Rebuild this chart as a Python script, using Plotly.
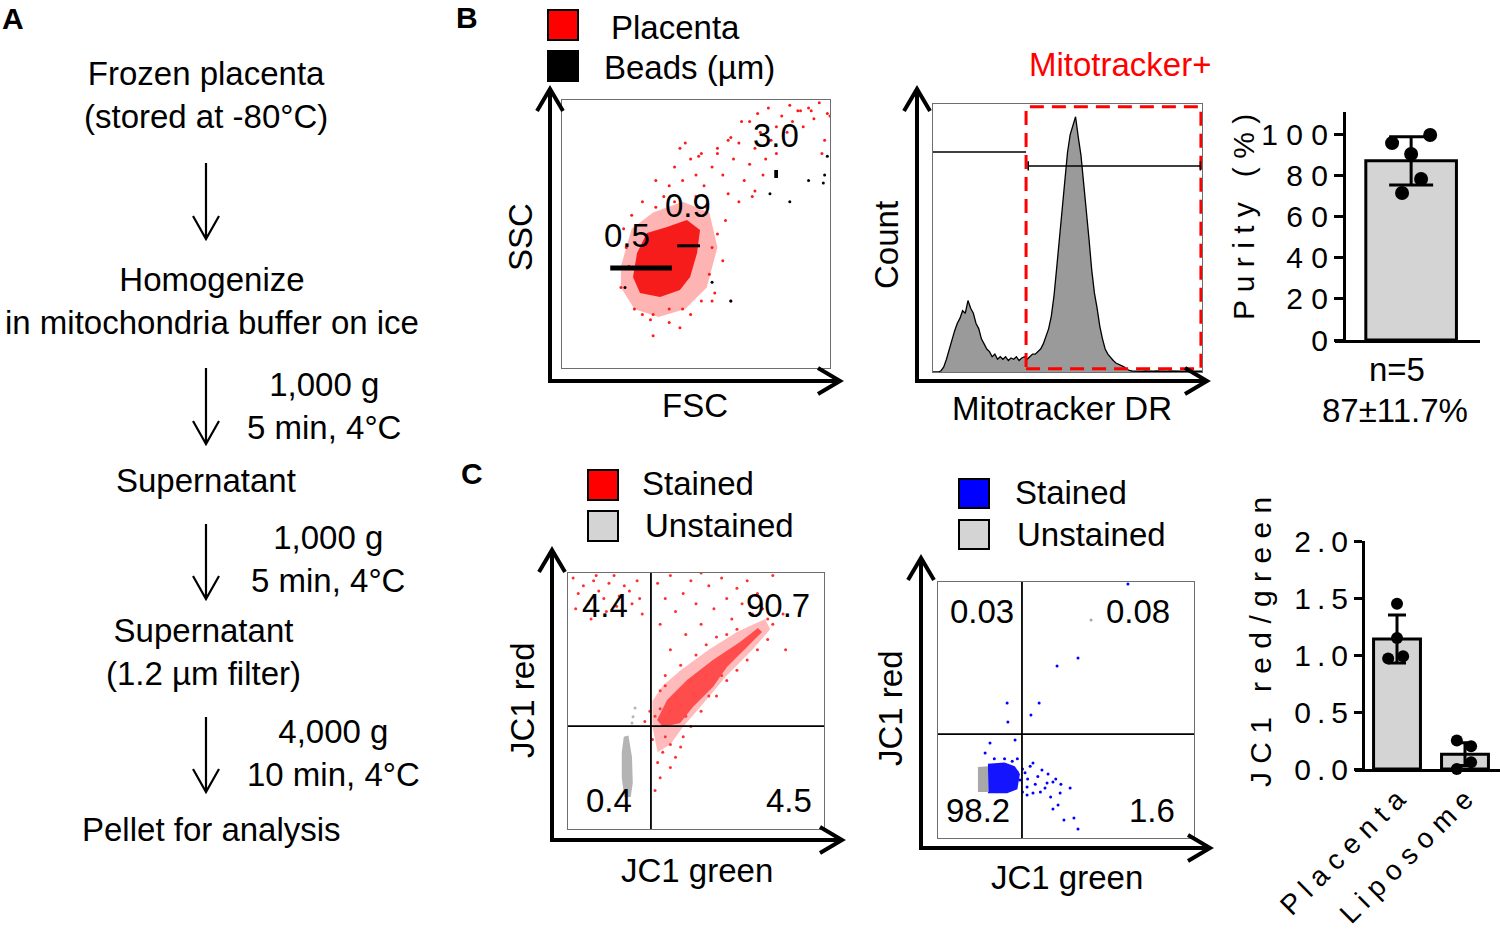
import math
import plotly.graph_objects as go

W, H = 1500, 936
FONT = "Arial, Liberation Sans, sans-serif"
TS = 33  # main text size

# ---------------- data ----------------
# Panel A: isolation protocol
flow_steps = ["Frozen placenta<br>(stored at -80°C)",
              "Homogenize<br>in mitochondria buffer on ice",
              "Supernatant",
              "Supernatant<br>(1.2 µm filter)",
              "Pellet for analysis"]
spin_force = ["1,000 g", "1,000 g", "4,000 g"]
spin_time = ["5 min, 4°C", "5 min, 4°C", "10 min, 4°C"]

# Panel B left: FSC / SSC (0-100 display units)
placenta_core_x = [28.0, 31.7, 39.2, 46.6, 51.5, 50.4, 47.8, 44.0, 36.6, 29.1, 26.5]
placenta_core_y = [42.9, 50.4, 52.6, 55.2, 51.5, 42.9, 34.0, 29.1, 26.5, 28.0, 34.0]
placenta_halo_x = [22, 26, 34, 45, 55, 58, 54, 46, 36, 27, 22]
placenta_halo_y = [38, 52, 58, 62, 58, 45, 30, 22, 19, 22, 30]
placenta_dots_x = [22, 24, 25, 27, 30, 33, 35, 38, 42, 45, 48, 52, 55, 56, 58, 54, 50, 23, 26, 30,
                   40, 44, 34, 57, 60, 61, 45, 50, 48, 53, 56, 58, 62, 60, 64, 66, 63, 68, 70, 72,
                   74, 70, 76, 78, 80, 82, 77, 84, 86, 88, 90, 92, 94, 96, 85, 73, 67, 62, 52, 46,
                   42, 40, 98, 99, 97, 80, 75, 66, 72, 35, 44, 51, 58, 71, 34, 40, 56, 63, 89, 93, 100]
placenta_dots_y = [30, 45, 38, 22, 20, 18, 60, 64, 62, 22, 20, 25, 35, 45, 50, 60, 64, 52, 57, 62,
                   17, 15, 12, 28, 40, 55, 70, 72, 78, 68, 75, 80, 65, 72, 78, 84, 86, 70, 76, 82,
                   88, 92, 78, 85, 90, 94, 97, 88, 92, 96, 90, 97, 93, 99, 98, 95, 92, 85, 80, 84,
                   75, 68, 85, 95, 80, 80, 72, 62, 66, 70, 82, 79, 82, 64, 20, 22, 25, 25, 96, 96, 94]
beads_dots_x = [98, 97.5, 99, 77.6, 56, 63, 23.5, 92, 85]
beads_dots_y = [72, 69, 79, 65, 32, 25, 30, 70, 62]
bead_sizes = ["0.5", "0.9", "3.0"]
bead_fsc_lo = [18, 43, 79.2]
bead_fsc_hi = [41, 51.5, 80.6]
bead_ssc = [37.3, 45.6, 72.4]

# Panel B middle: Mitotracker DR histogram (channel, relative count)
mito_channel = list(range(0, 101))
mito_count = [0, 0, 0, 0.5, 2, 5, 9, 13, 16, 19,
              21, 24, 23, 28, 25, 23, 19, 17, 13, 11,
              9, 8, 6, 7, 5, 6, 5, 6, 4.5, 5.5,
              5, 6, 4.5, 5.5, 6, 5, 6, 7, 7, 8,
              9, 11, 14, 17, 22, 30, 41, 52, 63, 76,
              86, 93, 97, 100, 92, 85, 74, 64, 52, 40,
              31, 25, 18, 13, 9, 7, 5.5, 4.5, 3.5, 3,
              2.7, 2, 1.2, 0.6, 0.4, 0.3, 0.4, 0.3, 0.3, 0.4,
              0.3, 0.3, 0.3, 0.4, 0.3, 0.3, 0.3, 0.3, 0.4, 0.3,
              0.3, 0.3, 0.3, 0.3, 0.4, 0.3, 0.3, 0.3, 0.3, 0.3, 0.3]
mito_gate = 34.6

# Panel B right: purity
purity_mean = 87
purity_sd = 11.7
purity_points = [95.6, 99.5, 90.3, 78.2, 71.4]

# Panel C left: JC1 stained placenta mitochondria
stained_core_x = [34.8, 38.7, 46.5, 56.6, 67.2, 74.2, 75.8, 69.9, 62.1, 56.6, 48.8, 43.8, 37.1]
stained_core_y = [42.6, 50.4, 58.2, 66.0, 73.0, 78.5, 77.0, 71.1, 63.3, 55.5, 47.7, 41.4, 39.8]
stained_halo_x = [33, 33, 37, 44, 55, 66, 77, 79, 72, 62, 52, 45, 40, 35]
stained_halo_y = [40, 50, 56, 62, 70, 77, 82, 78, 70, 60, 48, 40, 33, 30]
stained_dots_x = [2, 4, 6, 8, 10, 12, 14, 16, 18, 20, 22, 25, 27, 29, 3, 9, 15, 24, 28, 11, 19,
                  35, 38, 40, 42, 45, 48, 50, 52, 55, 57, 60, 62, 64, 66, 68, 70, 72, 58, 54, 46,
                  40, 36, 44, 50, 62, 74, 76, 78, 80, 66, 38, 36, 52, 80, 84,
                  58, 62, 66, 70, 74, 78, 52, 48, 45, 40, 37, 35, 36, 34, 38, 42, 44, 40, 33, 55, 60, 85,
                  34, 36, 40, 42, 38, 44, 46, 50, 48, 54, 30, 32]
stained_dots_y = [98, 92, 95, 88, 97, 93, 90, 96, 99, 91, 95, 88, 97, 84, 86, 82, 85, 93, 90, 99, 87,
                  96, 90, 99, 85, 92, 97, 88, 80, 95, 86, 98, 90, 82, 94, 88, 97, 84, 75, 72, 76,
                  70, 80, 64, 68, 76, 92, 86, 82, 80, 78, 60, 54, 100, 99, 84,
                  52, 58, 62, 66, 70, 74, 46, 40, 36, 33, 30, 26, 20, 15, 36, 28, 32, 24, 35, 52, 60, 70,
                  44, 47, 46, 52, 56, 48, 44, 52, 58, 60, 42, 46]
unstained_core_x = [21.8, 23.6, 25.0, 25.3, 24.5, 22.0, 21.0, 21.0]
unstained_core_y = [36.0, 36.5, 28.0, 18.0, 12.5, 12.5, 20.0, 30.0]
unstained_dots_x = [26.2, 25.4, 25.0]
unstained_dots_y = [47.3, 43.8, 41.4]
quad_c1 = [32.4, 40.2]
quad_c1_pct = ["4.4", "90.7", "0.4", "4.5"]

# Panel C middle: JC1 liposome control
lipo_core_x = [19.5, 26, 30, 32, 31, 27, 19.5]
lipo_core_y = [29, 29.5, 28, 25, 19, 17.5, 17.5]
lipo_dots_x = [37.1, 40.6, 44.9, 51.6, 46.9, 49.2, 53.1, 54.7, 44.9, 30.1, 27.0, 27.3, 36.3, 39.5,
               46.5, 54.7, 74.2, 20.3, 18.4, 34.8, 37.1, 41.8, 34.8, 32.0, 30.9, 42.6, 47.7, 33, 35,
               36, 38, 39, 40, 43, 33, 29, 31, 26, 22, 34, 44, 46, 48]
lipo_dots_y = [29.3, 26.6, 21.9, 19.5, 12.9, 7.0, 7.8, 3.5, 11.3, 38.3, 52.7, 45.3, 48.0, 52.7,
               67.2, 70.3, 99.2, 37.1, 33.2, 19.9, 17.6, 19.5, 16.8, 22.7, 25.8, 21.5, 17.6, 27, 23,
               28, 21, 24, 18, 25, 18, 30, 31, 31, 31, 25.5, 16, 23, 21]
lipo_unstained_x = [15.6, 15.6, 19.5, 19.8]
lipo_unstained_y = [18.0, 27.7, 28.0, 18.0]
lipo_unstained_dot_x = [59.8]
lipo_unstained_dot_y = [85.2]
quad_c2 = [32.8, 40.6]
quad_c2_pct = ["0.03", "0.08", "98.2", "1.6"]

# Panel C right: JC1 red/green ratio
jc1_groups = ["Placenta", "Liposome"]
jc1_mean = [1.14, 0.13]
jc1_sd = [0.21, 0.10]
jc1_points = [[1.45, 1.15, 0.97, 0.99], [0.25, 0.20, 0.06, 0.0]]


# ---------------- helpers (pixel positions in the 1500x936 window) ----------------
def fx(x):
    return x / W


def fy(y):
    return 1 - y / H


def dom_x(a, b):
    return [max(fx(a), 0), min(fx(b), 1)]


def dom_y(top, bottom):
    return [fy(bottom), fy(top)]


def P(x, y):
    return f"{fx(x):.5f},{fy(y):.5f}"


def arrow_path(x0, y0, x1, y1, head, half):
    dx, dy = x1 - x0, y1 - y0
    L = math.hypot(dx, dy)
    ux, uy = dx / L, dy / L
    bx, by = x1 - ux * head, y1 - uy * head
    a1 = (bx - uy * half, by + ux * half)
    a2 = (bx + uy * half, by - ux * half)
    return f"M{P(x0, y0)} L{P(x1, y1)} M{P(*a1)} L{P(x1, y1)} L{P(*a2)}"


def spaced(s, sep=" "):
    return sep.join(list(s))


shapes = []
annotations = []


def text(t, x, y, size=TS, color="black", anchor="center", angle=0, bold=False):
    annotations.append(dict(
        text=f"<b>{t}</b>" if bold else t, x=fx(x), y=fy(y), xref="paper", yref="paper",
        showarrow=False, xanchor=anchor, yanchor="middle", textangle=angle,
        font=dict(family=FONT, size=size, color=color)))


def arrow(x0, y0, x1, y1, width=4, head=22, half=13):
    shapes.append(dict(type="path", xref="paper", yref="paper", layer="above",
                       path=arrow_path(x0, y0, x1, y1, head, half),
                       line=dict(color="black", width=width)))


def axes_arrows(cx, cy, top, right):
    arrow(cx, cy + 2, cx, top)
    arrow(cx - 2, cy, right, cy)


def swatch(x0, y0, x1, y1, color):
    shapes.append(dict(type="rect", xref="paper", yref="paper", x0=fx(x0), x1=fx(x1),
                       y0=fy(y1), y1=fy(y0), fillcolor=color,
                       line=dict(color="black", width=2)))


fig = go.Figure()

# ---------------- Panel A ----------------
text("A", 0, 18, size=30, bold=True, anchor="left")
step_pos = [(206, 95), (212, 301), (206, 481), (203, 652), (211, 829)]
for t, (x, y) in zip(flow_steps, step_pos):
    text(t, x, y)
arrow_spans = [(163, 239), (368, 444), (524, 599), (717, 792)]
for y0, y1 in arrow_spans:
    arrow(206, y0, 206, y1, width=2.2, head=23, half=13)
spin_pos = [(324, 406), (328, 559), (333, 753)]
for f, t, (x, y) in zip(spin_force, spin_time, spin_pos):
    text(f"{f}<br>{t}", x, y)

# ---------------- Panel B: FSC/SSC ----------------
text("B", 467, 17, size=30, bold=True)
fig.add_trace(go.Scatter(x=placenta_halo_x, y=placenta_halo_y, fill="toself", mode="lines",
                         line=dict(width=0), fillcolor="rgba(255,40,40,0.35)",
                         xaxis="x", yaxis="y", hoverinfo="skip"))
fig.add_trace(go.Scatter(x=placenta_core_x, y=placenta_core_y, fill="toself", mode="lines",
                         line=dict(width=0), fillcolor="rgba(245,20,20,0.95)",
                         xaxis="x", yaxis="y", hoverinfo="skip"))
fig.add_trace(go.Scatter(x=placenta_dots_x, y=placenta_dots_y, mode="markers",
                         marker=dict(color="#ff1a1a", size=3), xaxis="x", yaxis="y"))
fig.add_trace(go.Scatter(x=beads_dots_x, y=beads_dots_y, mode="markers",
                         marker=dict(color="black", size=3), xaxis="x", yaxis="y"))
bead_width = [5, 3, 8]
for lo, hi, ssc, w in zip(bead_fsc_lo, bead_fsc_hi, bead_ssc, bead_width):
    fig.add_trace(go.Scatter(x=[lo, hi], y=[ssc, ssc], mode="lines",
                             line=dict(color="black", width=w), xaxis="x", yaxis="y"))
bead_label_pos = [(24.3, 49.3), (47.0, 60.8), (79.9, 86.9)]
for lab, (x, y) in zip(bead_sizes, bead_label_pos):
    annotations.append(dict(text=lab, x=x, y=y, xref="x", yref="y", showarrow=False,
                            font=dict(family=FONT, size=TS, color="black")))
swatch(548, 10, 578, 40, "#ff0000")
swatch(548, 51, 578, 81, "#000000")
text("Placenta", 609, 27, anchor="left")
text("Beads (µm)", 602, 68, anchor="left")
text("SSC", 520, 237, angle=-90)
text("FSC", 695, 405)
axes_arrows(550, 381, 89, 840)

# ---------------- Panel B: histogram ----------------
fig.add_trace(go.Scatter(x=mito_channel, y=mito_count, mode="lines", fill="tozeroy",
                         fillcolor="#9a9a9a", line=dict(color="black", width=1.3),
                         xaxis="x2", yaxis="y2"))
shapes.append(dict(type="rect", xref="x2", yref="y2 domain", x0=mito_gate, x1=99.6,
                   y0=0.012, y1=0.99, layer="above",
                   line=dict(color="#ff0000", width=3, dash="14px,8px")))
shapes.append(dict(type="line", xref="x2", yref="y2 domain", x0=0, x1=mito_gate,
                   y0=0.821, y1=0.821, line=dict(color="black", width=1.5)))
shapes.append(dict(type="line", xref="x2", yref="y2 domain", x0=mito_gate + 0.8, x1=99.4,
                   y0=0.769, y1=0.769, line=dict(color="black", width=1.5)))
for gx in [mito_gate + 0.8, 99.4]:
    shapes.append(dict(type="line", xref="x2", yref="y2 domain", x0=gx, x1=gx,
                       y0=0.752, y1=0.786, line=dict(color="black", width=1.5)))
text("Mitotracker+", 1120, 65, color="#ff0000")
text("Count", 887, 245, angle=-90)
text("Mitotracker DR", 1062, 408)
axes_arrows(917, 381, 89, 1207)

# ---------------- Panel B: purity bar ----------------
fig.add_trace(go.Bar(x=[0], y=[purity_mean], width=1.0, marker=dict(color="#d4d4d4",
                     line=dict(color="black", width=3)),
                     error_y=dict(type="data", array=[purity_sd], color="black",
                                  thickness=3, width=22),
                     xaxis="x3", yaxis="y3"))
purity_spread = [-0.21, 0.21, 0.0, 0.11, -0.10]
fig.add_trace(go.Scatter(x=purity_spread, y=purity_points, mode="markers",
                         marker=dict(color="black", size=14), cliponaxis=False,
                         xaxis="x3", yaxis="y3"))
text(spaced("Purity") + "   " + spaced("(%)"), 1243, 217, size=30, angle=-90)
text("n=5", 1397, 370)
text("87±11.7%", 1395, 410)

# ---------------- Panel C: stained placenta ----------------
text("C", 472, 473, size=30, bold=True)
fig.add_trace(go.Scatter(x=stained_dots_x, y=stained_dots_y, mode="markers",
                         marker=dict(color="#ff3030", size=3), xaxis="x4", yaxis="y4"))
fig.add_trace(go.Scatter(x=stained_halo_x, y=stained_halo_y, fill="toself", mode="lines",
                         line=dict(width=0), fillcolor="rgba(255,60,60,0.35)",
                         xaxis="x4", yaxis="y4", hoverinfo="skip"))
fig.add_trace(go.Scatter(x=stained_core_x, y=stained_core_y, fill="toself", mode="lines",
                         line=dict(width=0), fillcolor="rgba(255,70,70,0.95)",
                         xaxis="x4", yaxis="y4", hoverinfo="skip"))
fig.add_trace(go.Scatter(x=unstained_core_x, y=unstained_core_y, fill="toself", mode="lines",
                         line=dict(width=0), fillcolor="#b4b4b4",
                         xaxis="x4", yaxis="y4", hoverinfo="skip"))
fig.add_trace(go.Scatter(x=unstained_dots_x, y=unstained_dots_y, mode="markers",
                         marker=dict(color="#b4b4b4", size=3), xaxis="x4", yaxis="y4"))
quad_pos = [(14.5, 87.5), (82.0, 87.5), (16.0, 11.3), (86.3, 11.3)]
for lab, (x, y) in zip(quad_c1_pct, quad_pos):
    annotations.append(dict(text=lab, x=x, y=y, xref="x4", yref="y4", showarrow=False,
                            font=dict(family=FONT, size=TS, color="black")))
shapes.append(dict(type="line", xref="x4", yref="y4", x0=quad_c1[0], x1=quad_c1[0],
                   y0=0, y1=100, line=dict(color="black", width=1.8)))
shapes.append(dict(type="line", xref="x4", yref="y4", x0=0, x1=100,
                   y0=quad_c1[1], y1=quad_c1[1], line=dict(color="black", width=1.8)))
swatch(588, 470, 618, 500, "#ff0000")
swatch(588, 511, 618, 541, "#d4d4d4")
text("Stained", 640, 483, anchor="left")
text("Unstained", 643, 525, anchor="left")
text("JC1 red", 522, 700, angle=-90)
text("JC1 green", 697, 870)
axes_arrows(552, 840, 550, 842)

# ---------------- Panel C: liposome ----------------
fig.add_trace(go.Scatter(x=lipo_dots_x, y=lipo_dots_y, mode="markers",
                         marker=dict(color="#0000ff", size=3), xaxis="x5", yaxis="y5"))
fig.add_trace(go.Scatter(x=lipo_core_x, y=lipo_core_y, fill="toself", mode="lines",
                         line=dict(width=0), fillcolor="#1414ff",
                         xaxis="x5", yaxis="y5", hoverinfo="skip"))
fig.add_trace(go.Scatter(x=lipo_unstained_x, y=lipo_unstained_y, fill="toself", mode="lines",
                         line=dict(width=0), fillcolor="#a8a8a8",
                         xaxis="x5", yaxis="y5", hoverinfo="skip"))
fig.add_trace(go.Scatter(x=lipo_unstained_dot_x, y=lipo_unstained_dot_y, mode="markers",
                         marker=dict(color="#a8a8a8", size=3), xaxis="x5", yaxis="y5"))
quad_pos2 = [(17.2, 88.3), (78.1, 88.3), (15.6, 10.9), (83.6, 10.9)]
for lab, (x, y) in zip(quad_c2_pct, quad_pos2):
    annotations.append(dict(text=lab, x=x, y=y, xref="x5", yref="y5", showarrow=False,
                            font=dict(family=FONT, size=TS, color="black")))
shapes.append(dict(type="line", xref="x5", yref="y5", x0=quad_c2[0], x1=quad_c2[0],
                   y0=0, y1=100, line=dict(color="black", width=1.8)))
shapes.append(dict(type="line", xref="x5", yref="y5", x0=0, x1=100,
                   y0=quad_c2[1], y1=quad_c2[1], line=dict(color="black", width=1.8)))
swatch(959, 479, 989, 508, "#0000ff")
swatch(959, 520, 989, 549, "#d4d4d4")
text("Stained", 1013, 492, anchor="left")
text("Unstained", 1015, 534, anchor="left")
text("JC1 red", 890, 708, angle=-90)
text("JC1 green", 1067, 877)
axes_arrows(921, 848, 558, 1210)

# ---------------- Panel C: ratio bars ----------------
fig.add_trace(go.Bar(x=[0, 1], y=jc1_mean, width=0.69,
                     marker=dict(color="#d4d4d4", line=dict(color="black", width=3)),
                     error_y=dict(type="data", array=jc1_sd, color="black", thickness=3, width=9),
                     xaxis="x6", yaxis="y6"))
jc1_spread = [[0.0, 0.0, -0.13, 0.09], [-0.12, 0.09, 0.09, -0.12]]
for i, pts in enumerate(jc1_points):
    fig.add_trace(go.Scatter(x=[i + s for s in jc1_spread[i]], y=pts, mode="markers",
                             marker=dict(color="black", size=12), cliponaxis=False,
                             xaxis="x6", yaxis="y6"))
text(spaced("JC1") + "   " + spaced("red/green"), 1260, 642, size=30, angle=-90)

# ---------------- axes ----------------
box_axis = dict(showline=True, mirror=True, linecolor="#6e6e6e", linewidth=1.3,
                showticklabels=False, ticks="", showgrid=False, zeroline=False)
bar_axis = dict(showline=True, linecolor="black", linewidth=3, showgrid=False,
                zeroline=False, tickfont=dict(family=FONT, size=30, color="black"))
bar_xaxis = dict(bar_axis, tickfont=dict(family=FONT, size=28, color="black"))

fig.update_layout(
    width=W, height=H, margin=dict(l=0, r=0, t=0, b=0, autoexpand=False),
    paper_bgcolor="white", plot_bgcolor="white", showlegend=False,
    font=dict(family=FONT, color="black"),
    xaxis=dict(domain=dom_x(562, 830), range=[0, 100], anchor="y", **box_axis),
    yaxis=dict(domain=dom_y(100, 368), range=[0, 100], anchor="x", **box_axis),
    xaxis2=dict(domain=dom_x(933, 1202), range=[0, 100], anchor="y2", **box_axis),
    yaxis2=dict(domain=dom_y(104, 372), range=[0, 105], anchor="x2", **box_axis),
    xaxis3=dict(domain=dom_x(1335, 1480), range=[-0.84, 0.76], anchor="y3",
                showticklabels=False, ticks="", **bar_axis),
    yaxis3=dict(domain=dom_y(112, 340), range=[0, 110.7], anchor="free", position=fx(1344),
                ticks="outside", ticklen=9, tickwidth=3, tickcolor="black",
                tickvals=[0, 20, 40, 60, 80, 100],
                ticktext=[spaced(str(v)) for v in [0, 20, 40, 60, 80, 100]], **bar_axis),
    xaxis4=dict(domain=dom_x(568, 824), range=[0, 100], anchor="y4", **box_axis),
    yaxis4=dict(domain=dom_y(573, 829), range=[0, 100], anchor="x4", **box_axis),
    xaxis5=dict(domain=dom_x(938, 1194), range=[0, 100], anchor="y5", **box_axis),
    yaxis5=dict(domain=dom_y(582, 838), range=[0, 100], anchor="x5", **box_axis),
    xaxis6=dict(domain=dom_x(1355, 1500), range=[-0.618, 1.515], anchor="y6",
                tickvals=[0, 1], ticktext=[spaced(g) for g in jc1_groups], tickangle=-45,
                ticks="", **bar_xaxis),
    yaxis6=dict(domain=dom_y(541, 769), range=[0, 2.0], anchor="free", position=fx(1363),
                ticks="outside", ticklen=8, tickwidth=3, tickcolor="black",
                tickvals=[0, 0.5, 1.0, 1.5, 2.0],
                ticktext=[spaced(f"{v:.1f}", "\u2009") for v in [0, 0.5, 1.0, 1.5, 2.0]],
                **bar_axis),
    shapes=shapes,
    annotations=annotations,
)

# the page's default 8px body margin would push the figure off the window corner
fig.write_html("out.html", config={"displayModeBar": False},
               post_script="document.body.style.margin = '0px';")
